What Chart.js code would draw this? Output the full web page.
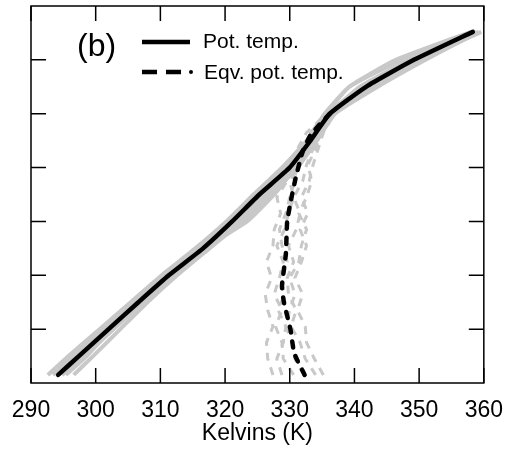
<!DOCTYPE html>
<html>
<head>
<meta charset="utf-8">
<script src="https://cdn.jsdelivr.net/npm/chart.js@4/dist/chart.umd.min.js"></script>
<style>
  html, body { margin: 0; padding: 0; background: #fff; }
  #wrap { width: 509px; height: 454px; }
</style>
</head>
<body>
<div id="wrap"><canvas id="grafico"></canvas></div>
<script>
// eixo x (Kelvin) e niveis verticais (sem rotulos)
const X_TICKS = [290, 300, 310, 320, 330, 340, 350, 360];
const Y_TICKS = [1, 2, 3, 4, 5, 6];

// temperatura potencial (linha preta continua)
const POT_Y = [0.15, 0.5, 1, 1.5, 2, 2.5, 3, 3.5, 4, 4.5, 5, 5.5, 6, 6.52];
const POT_K = [294.2, 297.4, 302.0, 306.6, 311.3, 316.6, 321.1, 325.3, 330.0, 333.2, 336.2, 341.8, 349.2, 358.3];

// membros cinza (continuos)
const POT_G1 = [292.6, 295.8, 300.6, 305.4, 310.2, 315.4, 320.2, 324.4, 328.8, 332.6, 335.4, 339.2, 347.4, 358.8];
const POT_G2 = [296.6, 299.6, 303.8, 308.0, 312.6, 317.6, 322.6, 327.0, 331.2, 334.2, 337.0, 343.6, 351.0, 359.2];
const POT_G3 = [293.4, 296.6, 301.4, 306.2, 310.8, 316.0, 320.8, 325.0, 329.4, 332.8, 335.6, 339.2, 346.4, 358.0];
const POT_G4 = [294.8, 298.2, 302.8, 307.2, 311.8, 317.2, 322.0, 326.4, 330.6, 333.8, 336.6, 342.8, 350.4, 359.6];
const POT_G5 = [293.8, 297.0, 301.8, 306.8, 311.4, 316.4, 321.6, 325.8, 330.2, 333.4, 336.2, 340.8, 348.6, 358.6];
const POT_G6 = [295.4, 298.6, 302.4, 306.4, 311.0, 316.8, 323.4, 327.6, 330.8, 333.6, 335.8, 341.4, 349.0, 358.4];

// temperatura potencial equivalente (preta tracejada)
const EQV_Y = [0.15, 0.55, 1.0, 1.5, 1.8, 2.4, 3.0, 3.4, 3.8, 4.3, 4.6, 4.85, 5.02];
const EQV_K = [332.3, 330.7, 330.1, 329.1, 328.8, 329.4, 329.6, 330.2, 330.9, 332.0, 333.2, 335.0, 336.4];

// membros cinza (tracejados)
const EQV_GY = [0.15, 0.45, 0.75, 1.05, 1.35, 1.65, 1.95, 2.25, 2.55, 2.85, 3.15, 3.45, 3.75, 4.05, 4.35, 4.65, 4.9];
const EQV_G1 = [327.4, 326.6, 326.4, 327.4, 326.6, 326.2, 327.2, 326.4, 327.4, 327.6, 328.6, 328.0, 329.6, 330.0, 331.2, 332.6, 334.8];
const EQV_G2 = [335.2, 333.8, 332.6, 332.4, 331.2, 332.0, 330.8, 331.8, 332.6, 331.6, 332.8, 331.8, 333.0, 333.6, 334.4, 335.2, 336.4];
const EQV_G3 = [330.6, 329.0, 328.8, 327.8, 328.8, 327.6, 328.4, 329.0, 328.0, 329.2, 329.8, 330.6, 330.0, 331.6, 332.4, 333.8, 335.6];
const EQV_G4 = [334.0, 332.4, 331.6, 330.2, 331.0, 329.8, 329.6, 330.6, 329.8, 331.0, 331.6, 330.6, 332.0, 332.6, 333.6, 334.6, 336.0];
const EQV_G5 = [328.8, 328.0, 329.0, 329.4, 328.2, 329.2, 328.6, 329.6, 328.8, 328.4, 329.4, 330.0, 330.8, 331.0, 332.2, 333.2, 335.2];
const EQV_G6 = [332.2, 330.8, 330.4, 329.4, 330.0, 330.8, 330.0, 331.4, 331.8, 332.6, 331.4, 332.6, 333.4, 332.8, 334.0, 334.8, 336.2];

const CINZA = '#c8c8c8';
const FONTE = '"Liberation Sans", Arial, Helvetica, sans-serif';

function pontos(xs, ys) {
    return xs.map((x, i) => ({ x: x, y: ys[i] }));
}

function serie(xs, ys, cor, largura, traco, ponta, curva) {
    return {
        data: pontos(xs, ys),
        showLine: true,
        borderColor: cor,
        borderWidth: largura,
        borderDash: traco || [],
        borderCapStyle: ponta || 'butt',
        borderJoinStyle: 'round',
        pointRadius: 0,
        tension: curva === undefined ? 0.15 : curva,
        fill: false
    };
}

// primeiro dataset fica por cima
const datasets = [
    serie(POT_K, POT_Y, '#000', 4.5, [], 'round'),
    serie(EQV_K, EQV_Y, '#000', 4.5, [6, 9], 'round')
];
[EQV_G1, EQV_G2, EQV_G3, EQV_G4, EQV_G5, EQV_G6].forEach(g => {
    datasets.push(serie(g, EQV_GY, CINZA, 3, [8, 7], 'butt', 0));
});
[POT_G1, POT_G2, POT_G3, POT_G4, POT_G5, POT_G6].forEach(g => {
    datasets.push(serie(g, POT_Y, CINZA, 4));
});

// moldura, ticks para dentro, legenda e "(b)"
const moldura = {
    id: 'moldura',
    afterDraw(chart) {
        const { ctx, chartArea: a, scales } = chart;
        const sx = scales.x, sy = scales.y;
        const tl = 15;
        ctx.save();
        ctx.strokeStyle = '#000';
        ctx.lineWidth = 1.5;
        ctx.strokeRect(a.left, a.top, a.right - a.left, a.bottom - a.top);
        ctx.beginPath();
        X_TICKS.forEach(v => {
            const px = sx.getPixelForValue(v);
            ctx.moveTo(px, a.bottom); ctx.lineTo(px, a.bottom - tl);
            ctx.moveTo(px, a.top); ctx.lineTo(px, a.top + tl);
        });
        Y_TICKS.forEach(v => {
            const py = sy.getPixelForValue(v);
            ctx.moveTo(a.left, py); ctx.lineTo(a.left + tl, py);
            ctx.moveTo(a.right, py); ctx.lineTo(a.right - tl, py);
        });
        ctx.stroke();

        ctx.fillStyle = '#000';
        ctx.textBaseline = 'alphabetic';
        ctx.textAlign = 'left';
        ctx.font = '32px ' + FONTE;
        ctx.fillText('(b)', 77, 56);

        ctx.lineWidth = 4.5;
        ctx.beginPath();
        ctx.moveTo(142, 42); ctx.lineTo(190, 42);
        ctx.stroke();
        ctx.setLineDash([15, 9]);
        ctx.beginPath();
        ctx.moveTo(142, 72); ctx.lineTo(182, 72);
        ctx.stroke();
        ctx.setLineDash([]);
        ctx.beginPath();
        ctx.arc(191, 72, 2, 0, Math.PI * 2);
        ctx.fill();

        ctx.font = '21px ' + FONTE;
        ctx.fillText('Pot. temp.', 203, 48);
        ctx.fillText('Eqv. pot. temp.', 204, 79);
        ctx.restore();
    }
};

new Chart(document.getElementById('grafico'), {
    type: 'scatter',
    data: { datasets: datasets },
    plugins: [moldura],
    options: {
        responsive: true,
        maintainAspectRatio: false,
        animation: false,
        layout: { padding: { left: 31, right: 25, top: 6, bottom: 0 } },
        plugins: { legend: { display: false }, tooltip: { enabled: false } },
        scales: {
            x: {
                type: 'linear',
                min: 290, max: 360,
                afterFit: s => { s.height = 71; },
                afterBuildTicks: s => { s.ticks = X_TICKS.map(v => ({ value: v })); },
                grid: { display: false },
                border: { display: false },
                ticks: { color: '#000', padding: 6, font: { family: FONTE, size: 23 } },
                title: {
                    display: true,
                    text: 'Kelvins (K)',
                    color: '#000',
                    padding: { top: 0, bottom: 7 },
                    font: { family: FONTE, size: 23 }
                }
            },
            y: {
                type: 'linear',
                min: 0, max: 7,
                display: false
            }
        }
    }
});
</script>
</body>
</html>
